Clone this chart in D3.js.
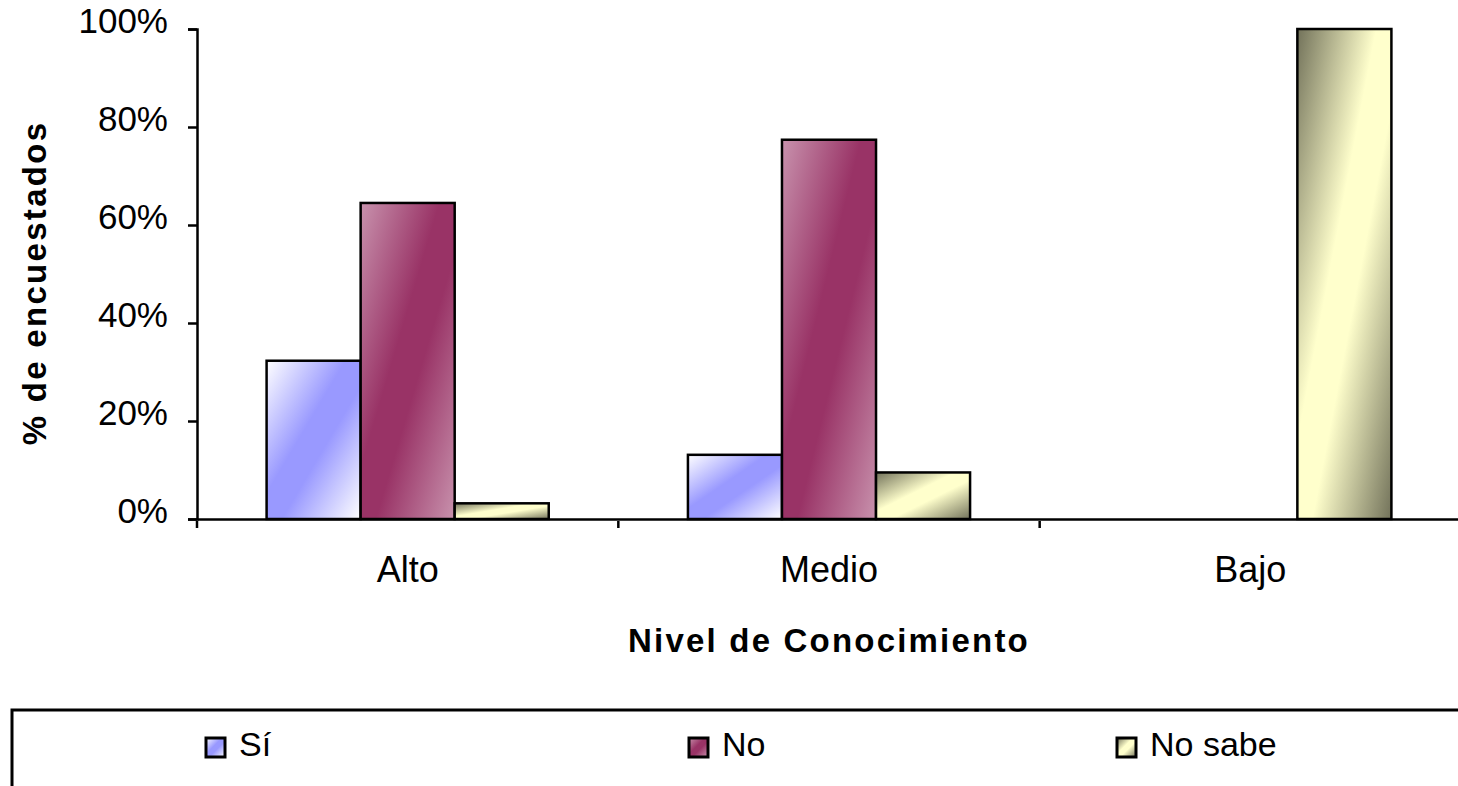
<!DOCTYPE html>
<html>
<head>
<meta charset="utf-8">
<script src="https://cdn.jsdelivr.net/npm/d3@7"></script>
<style>
  body { margin: 0; background: #fff; }
  svg { display: block; font-family: Arial, "Liberation Sans", sans-serif; }
</style>
</head>
<body>
<div id="chart"></div>
<script>
const categories = ["Alto", "Medio", "Bajo"]
const seriesNames = ["Sí", "No", "No sabe"]
const si = [0.323, 0.131, 0]
const no = [0.645, 0.774, 0]
const noSabe = [0.032, 0.095, 1.0]
const yTicks = [0, 0.2, 0.4, 0.6, 0.8, 1.0]

const values = [si, no, noSabe]
const width = 1458
const height = 786

const svg = d3.select("#chart")
  .append("svg")
  .attr("width", width)
  .attr("height", height)

// Gradients per series (diagonal, like the old office chart fills)
const defs = svg.append("defs")
const grads = [
  { id: "g-si", edge: "#ffffff", mid: "#9999ff" },
  { id: "g-no", edge: "#c892ad", mid: "#993366" },
  { id: "g-ns", edge: "#72725a", mid: "#ffffcc" }
]
grads.forEach(g => {
  const lg = defs.append("linearGradient")
    .attr("id", g.id)
    .attr("x1", 0).attr("y1", 0).attr("x2", 1).attr("y2", 1)
  lg.append("stop").attr("offset", "0%").attr("stop-color", g.edge)
  lg.append("stop").attr("offset", "42%").attr("stop-color", g.mid)
  lg.append("stop").attr("offset", "58%").attr("stop-color", g.mid)
  lg.append("stop").attr("offset", "100%").attr("stop-color", g.edge)
})

const plotLeft = 197, plotRight = 1461, plotTop = 29, plotBottom = 519

const x0 = d3.scaleBand().domain(categories).range([plotLeft, plotRight]).padding(0)
const x1 = d3.scaleBand().domain(seriesNames).range([0, x0.bandwidth()]).paddingInner(0).paddingOuter(0.74)
const y = d3.scaleLinear().domain([0, 1]).range([plotBottom, plotTop])

// Bars
categories.forEach((c, i) => {
  seriesNames.forEach((s, j) => {
    const v = values[j][i]
    if (v <= 0) return
    svg.append("rect")
      .attr("x", x0(c) + x1(s))
      .attr("y", y(v))
      .attr("width", x1.bandwidth())
      .attr("height", y(0) - y(v))
      .attr("fill", `url(#${grads[j].id})`)
      .attr("stroke", "#000")
      .attr("stroke-width", 2.5)
  })
})

// Y axis
const yAxis = svg.append("g")
  .attr("transform", `translate(${plotLeft},0)`)
  .call(d3.axisLeft(y).tickValues(yTicks).tickFormat(d3.format(".0%")).tickSize(9).tickPadding(20))
yAxis.select(".domain").attr("stroke", "#000").attr("stroke-width", 2.5)
yAxis.selectAll(".tick line").attr("stroke", "#000").attr("stroke-width", 2.5)
yAxis.selectAll(".tick text")
  .attr("font-size", 35)
  .attr("font-family", "Arial, 'Liberation Sans', sans-serif")
  .attr("fill", "#000")
  .attr("dy", "0.1em")

// X axis
const xAxis = svg.append("g")
  .attr("transform", `translate(0,${plotBottom})`)
  .call(d3.axisBottom(x0).tickSize(0).tickPadding(37))
xAxis.select(".domain").attr("stroke", "#000").attr("stroke-width", 2.5)
xAxis.selectAll(".tick text")
  .attr("font-size", 36)
  .attr("font-family", "Arial, 'Liberation Sans', sans-serif")
  .attr("fill", "#000")

// category separator ticks
svg.append("g").selectAll("line")
  .data(categories)
  .join("line")
  .attr("x1", d => x0(d)).attr("x2", d => x0(d))
  .attr("y1", plotBottom + 2).attr("y2", plotBottom + 9)
  .attr("stroke", "#000").attr("stroke-width", 2.5)

// Axis titles
svg.append("text")
  .attr("x", 829)
  .attr("y", 652)
  .attr("text-anchor", "middle")
  .attr("font-size", 33)
  .attr("font-weight", "bold")
  .attr("letter-spacing", 2.2)
  .text("Nivel de Conocimiento")

svg.append("text")
  .attr("transform", `translate(46,283) rotate(-90)`)
  .attr("text-anchor", "middle")
  .attr("font-size", 33)
  .attr("font-weight", "bold")
  .attr("letter-spacing", 2.3)
  .text("% de encuestados")

// Legend
svg.append("rect")
  .attr("x", 12).attr("y", 710)
  .attr("width", 1500).attr("height", 120)
  .attr("fill", "none")
  .attr("stroke", "#000")
  .attr("stroke-width", 3)

const legendX = [206, 689, 1117]
const legend = svg.append("g").selectAll("g")
  .data(seriesNames)
  .join("g")
  .attr("transform", (d, i) => `translate(${legendX[i]},738)`)

legend.append("rect")
  .attr("width", 19).attr("height", 19)
  .attr("fill", (d, i) => `url(#${grads[i].id})`)
  .attr("stroke", "#000")
  .attr("stroke-width", 3)

legend.append("text")
  .attr("x", 33)
  .attr("y", 18)
  .attr("font-size", 34)
  .text(d => d)
</script>
</body>
</html>
